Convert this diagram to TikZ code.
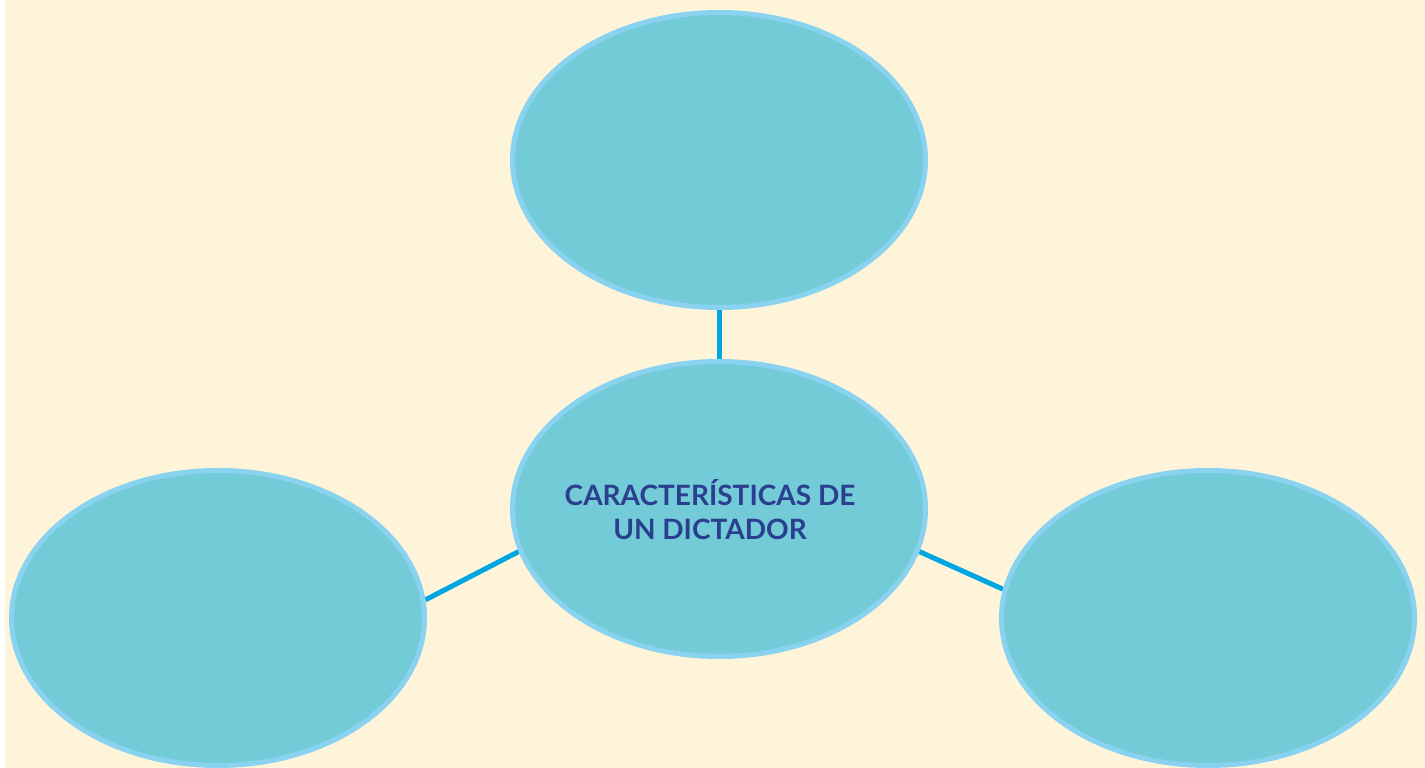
\documentclass[tikz,border=0pt]{standalone}
\usepackage{fontspec}
\setmainfont{Lato}
\usetikzlibrary{shapes.geometric}
\pgfdeclarelayer{background}
\pgfsetlayers{background,main}
\definecolor{bgcream}{HTML}{FDF4DA}
\definecolor{ellfill}{HTML}{73CBD8}
\definecolor{ellborder}{HTML}{8AD3F0}
\definecolor{linkblue}{HTML}{00A6E2}
\definecolor{txtblue}{HTML}{2B3F8F}
\tikzset{
  bubble/.style={ellipse, draw=ellborder, fill=ellfill, line width=5pt,
    minimum width=413pt, minimum height=295pt, inner sep=0pt},
  link/.style={draw=linkblue, line width=5pt},
  title/.style={text=txtblue, font=\bfseries\fontsize{28}{34}\selectfont, align=center}
}
\begin{document}
\begin{tikzpicture}[x=1pt,y=1pt]
\useasboundingbox (0,0) rectangle (1425,768);
\node[bubble] (top) at (719,608) {};
\node[bubble] (center) at (719,259) {};
\node[bubble] (left) at (218,150) {};
\node[bubble] (right) at (1208,150) {};
\node[title] (label) at (710,258) {CARACTERÍSTICAS DE\\ UN DICTADOR};
\begin{pgfonlayer}{background}
\fill[white] (0,0) rectangle (1425,768);
\fill[bgcream] (5,0) rectangle (1425,768);
\draw[link] (top.south) -- (center.north);
\draw[link] (center.192) -- (left.5);
\draw[link] (center.348) -- (right.172);
\end{pgfonlayer}
\end{tikzpicture}
\end{document}
